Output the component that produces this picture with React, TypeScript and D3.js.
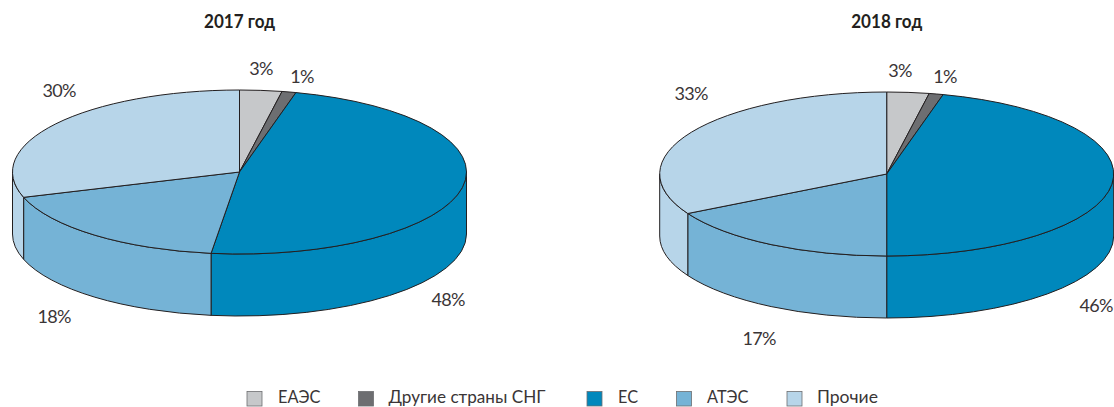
import React from "react";
import * as d3 from "d3";

const categories = ["ЕАЭС", "Другие страны СНГ", "ЕС", "АТЭС", "Прочие"];
const colors = ["#c6c8ca", "#6d6e71", "#0088bc", "#75b3d6", "#b7d5e9"];
const titles = ["2017 год", "2018 год"];
const values2017 = [3, 1, 48, 18, 30];
const values2018 = [3, 1, 46, 17, 33];
const labels2017 = [[261, 75], [302, 83], [448, 306], [54, 323], [59, 97]];
const labels2018 = [[900, 77], [945, 83], [1096, 312], [759, 345], [691, 100]];
const legendSquares = [247, 358.5, 587, 676.5, 787];
const legendTexts = [278, 388.5, 618, 707, 817];
const legendWidths = [42.5, 157, 20, 41.5, 61];
const stroke = "#231f20";
const FONT = "Lato, 'Open Sans', sans-serif";
const RX = 227, RY = 82, DEPTH = 62;

function Pie3D({ cx, cy, values, labels, title, titleX }: any) {
  const arcs = d3.pie<number>().sort(null)(values);
  const pt = (a: number, dy = 0): [number, number] => [cx + RX * Math.sin(a), cy - RY * Math.cos(a) + dy];
  const sides = arcs.map((d) => {
    const a0 = Math.max(d.startAngle, Math.PI / 2);
    const a1 = Math.min(d.endAngle, (3 * Math.PI) / 2);
    if (a1 <= a0) return null;
    const [x0, y0] = pt(a0), [x1, y1] = pt(a1);
    const [x2, y2] = pt(a1, DEPTH), [x3, y3] = pt(a0, DEPTH);
    return `M${x0},${y0}A${RX},${RY} 0 0 1 ${x1},${y1}L${x2},${y2}A${RX},${RY} 0 0 0 ${x3},${y3}Z`;
  });
  const top = arcs.map((d) => {
    const [x0, y0] = pt(d.startAngle), [x1, y1] = pt(d.endAngle);
    const large = d.endAngle - d.startAngle > Math.PI ? 1 : 0;
    return `M${cx},${cy}L${x0},${y0}A${RX},${RY} 0 ${large} 1 ${x1},${y1}Z`;
  });
  return (
    <g>
      <text x={titleX} y={28} textAnchor="middle" fontFamily={FONT} fontWeight={700} fontSize={18} textLength={71} lengthAdjust="spacingAndGlyphs" fill="#231f20">{title}</text>
      {sides.map((p, i) => p && <path key={i} d={p} fill={colors[i]} stroke={stroke} strokeWidth={1} strokeLinejoin="round" />)}
      {top.map((p, i) => <path key={i} d={p} fill={colors[i]} stroke={stroke} strokeWidth={1} strokeLinejoin="round" />)}
      {values.map((v: number, i: number) => (
        <text key={i} x={labels[i][0]} y={labels[i][1]} textAnchor="middle" fontFamily={FONT} fontWeight={400} fontSize={18} letterSpacing={-0.7} fill="#3a3536">{v}%</text>
      ))}
    </g>
  );
}

export default function App() {
  return (
    <svg width={1114} height={407} style={{ position: "absolute", left: 0, top: 0, background: "#fff" }}>
      <Pie3D cx={239.5} cy={172} values={values2017} labels={labels2017} title={titles[0]} titleX={239.5} />
      <Pie3D cx={886.7} cy={174} values={values2018} labels={labels2018} title={titles[1]} titleX={886.7} />
      {categories.map((c, i) => (
        <g key={c}>
          <rect x={legendSquares[i]} y={391.5} width={15} height={14.5} fill={colors[i]} stroke="#6d6e71" strokeWidth={0.8} />
          <text x={legendTexts[i]} y={403.2} fontFamily={FONT} fontSize={17} textLength={legendWidths[i]} lengthAdjust="spacingAndGlyphs" fill="#3a3536">{c}</text>
        </g>
      ))}
    </svg>
  );
}
